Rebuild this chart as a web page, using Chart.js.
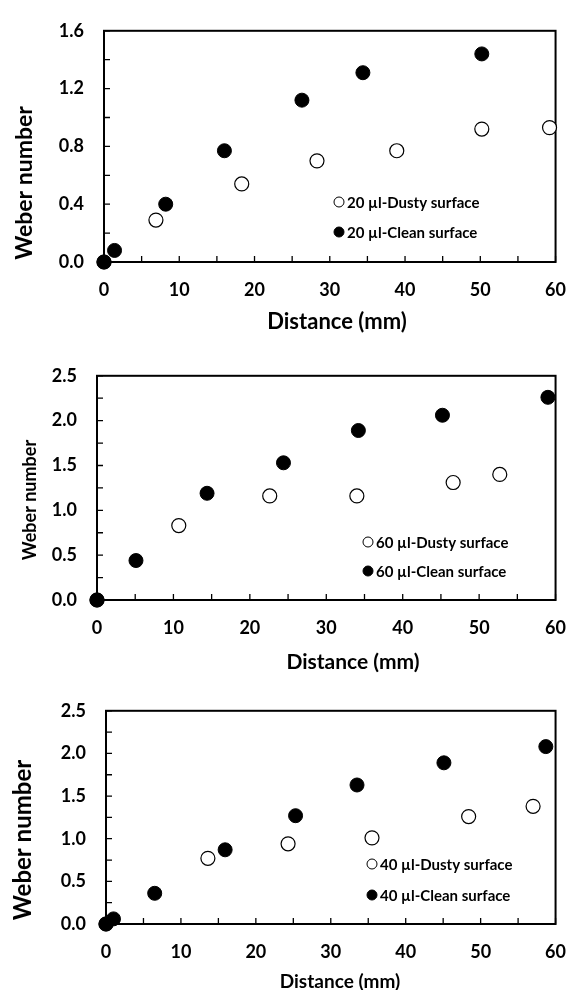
<!DOCTYPE html>
<html>
<head>
<meta charset="utf-8">
<script src="https://cdn.jsdelivr.net/npm/chart.js@4.4.1/dist/chart.umd.min.js"></script>
<style>
  html, body { margin: 0; padding: 0; background: #fff; }
  .panel { position: absolute; left: 0; width: 583px; }
</style>
</head>
<body>
<div class="panel" style="top:0;height:345px"><canvas id="c20"></canvas></div>
<div class="panel" style="top:345px;height:335px"><canvas id="c60"></canvas></div>
<div class="panel" style="top:680px;height:310px"><canvas id="c40"></canvas></div>
<script>
// axis ticks
const xTicks = [0, 10, 20, 30, 40, 50, 60];
const yTicks20 = [0, 0.4, 0.8, 1.2, 1.6];
const yTicks60 = [0, 0.5, 1.0, 1.5, 2.0, 2.5];
const yTicks40 = [0, 0.5, 1.0, 1.5, 2.0, 2.5];

// 20 µl
const labels20 = ['20 µl-Dusty surface', '20 µl-Clean surface'];
const dusty20X = [0, 6.9, 18.3, 28.3, 38.9, 50.2, 59.2];
const dusty20Y = [0, 0.29, 0.54, 0.70, 0.77, 0.92, 0.93];
const clean20X = [0, 1.4, 8.2, 16.0, 26.3, 34.4, 50.2];
const clean20Y = [0, 0.08, 0.40, 0.77, 1.12, 1.31, 1.44];

// 60 µl
const labels60 = ['60 µl-Dusty surface', '60 µl-Clean surface'];
const dusty60X = [0, 10.7, 22.6, 34.0, 46.6, 52.7];
const dusty60Y = [0, 0.83, 1.16, 1.16, 1.31, 1.40];
const clean60X = [0, 5.1, 14.4, 24.4, 34.2, 45.2, 59.0];
const clean60Y = [0, 0.44, 1.19, 1.53, 1.89, 2.06, 2.26];

// 40 µl
const labels40 = ['40 µl-Dusty surface', '40 µl-Clean surface'];
const dusty40X = [0, 13.6, 24.3, 35.5, 48.4, 57.0];
const dusty40Y = [0, 0.77, 0.94, 1.01, 1.26, 1.38];
const clean40X = [0, 1.0, 6.5, 15.9, 25.3, 33.5, 45.1, 58.7];
const clean40Y = [0, 0.06, 0.36, 0.87, 1.27, 1.63, 1.89, 2.08];

const FONT = 'Lato, "Open Sans", sans-serif';

function pts(xs, ys) {
  return xs.map((x, i) => ({ x: x, y: ys[i] }));
}

// midpoints between major ticks -> minor tick marks
function minors(t) {
  const out = [];
  for (let i = 0; i < t.length - 1; i++) out.push((t[i] + t[i + 1]) / 2);
  return out;
}

// box around plot + inward tick marks
const frame = {
  id: 'frame',
  beforeDatasetsDraw(chart, args, o) {
    const { ctx, chartArea: a, scales: { x, y } } = chart;
    ctx.save();
    ctx.strokeStyle = '#000';
    ctx.lineWidth = 1.3;
    ctx.beginPath();
    xTicks.concat(minors(xTicks)).forEach(v => {
      const px = x.getPixelForValue(v);
      ctx.moveTo(px, a.bottom);
      ctx.lineTo(px, a.bottom - 6);
    });
    o.yTicks.concat(minors(o.yTicks)).forEach(v => {
      const py = y.getPixelForValue(v);
      ctx.moveTo(a.left, py);
      ctx.lineTo(a.left + 6, py);
    });
    ctx.stroke();
    ctx.lineWidth = 2;
    ctx.strokeRect(a.left, a.top, a.width, a.height);
    ctx.restore();
  }
};

// axis titles and inset legend
const annot = {
  id: 'annot',
  afterDraw(chart, args, o) {
    const ctx = chart.ctx;
    ctx.save();
    ctx.fillStyle = '#000';
    ctx.textAlign = 'center';
    ctx.textBaseline = 'middle';
    ctx.font = 'bold ' + o.xTitleSize + 'px ' + FONT;
    ctx.fillText('Distance (mm)', o.xTitleAt[0], o.xTitleAt[1]);
    ctx.translate(o.yTitleAt[0], o.yTitleAt[1]);
    ctx.rotate(-Math.PI / 2);
    ctx.font = 'bold ' + o.yTitleSize + 'px ' + FONT;
    ctx.fillText('Weber number', 0, 0);
    ctx.restore();

    ctx.save();
    ctx.font = 'bold ' + o.legendSize + 'px ' + FONT;
    ctx.textAlign = 'left';
    ctx.textBaseline = 'middle';
    chart.data.datasets.forEach((ds, i) => {
      const lx = o.legendAt[0];
      const ly = o.legendAt[1] + i * o.legendGap;
      ctx.beginPath();
      ctx.arc(lx, ly, 5, 0, Math.PI * 2);
      ctx.fillStyle = ds.backgroundColor;
      ctx.fill();
      ctx.lineWidth = 1;
      ctx.strokeStyle = '#000';
      ctx.stroke();
      ctx.fillStyle = '#000';
      ctx.fillText(ds.label, lx + 8, ly + 1);
    });
    ctx.restore();
  }
};

function makeChart(id, labels, dusty, clean, yTicks, yMax, lay) {
  const tickFont = { family: FONT, size: 18, weight: 'bold' };
  return new Chart(document.getElementById(id), {
    type: 'scatter',
    data: {
      datasets: [{
        label: labels[0],
        data: dusty,
        backgroundColor: '#fff',
        borderColor: '#000',
        borderWidth: 1.2,
        pointRadius: 7,
        order: 1,
        clip: false
      }, {
        label: labels[1],
        data: clean,
        backgroundColor: '#000',
        borderColor: '#000',
        borderWidth: 1,
        pointRadius: 7,
        order: 0,
        clip: false
      }]
    },
    options: {
      responsive: true,
      maintainAspectRatio: false,
      animation: false,
      layout: { padding: { top: lay.top, right: lay.right, left: 0, bottom: 0 } },
      plugins: {
        legend: { display: false },
        tooltip: { enabled: false },
        frame: { yTicks: yTicks },
        annot: lay.annot
      },
      scales: {
        x: {
          type: 'linear',
          min: 0,
          max: 60,
          afterBuildTicks: s => { s.ticks = xTicks.map(v => ({ value: v })); },
          afterFit: s => { s.height = lay.xH; },
          grid: { display: false, drawTicks: false },
          border: { display: false },
          ticks: { padding: 17, color: '#000', font: tickFont, autoSkip: false, maxRotation: 0 }
        },
        y: {
          type: 'linear',
          min: 0,
          max: yMax,
          afterBuildTicks: s => { s.ticks = yTicks.map(v => ({ value: v })); },
          afterFit: s => { s.width = lay.yW; },
          grid: { display: false, drawTicks: false },
          border: { display: false },
          ticks: { padding: 20, color: '#000', font: tickFont, callback: v => v.toFixed(1) }
        }
      }
    },
    plugins: [frame, annot]
  });
}

makeChart('c20', labels20, pts(dusty20X, dusty20Y), pts(clean20X, clean20Y), yTicks20, 1.6, {
  top: 20, right: 12, xH: 83, yW: 104,
  annot: { xTitleAt: [337, 322], xTitleSize: 22, yTitleAt: [25, 183], yTitleSize: 23,
           legendAt: [339, 202], legendGap: 30, legendSize: 15 }
});

makeChart('c60', labels60, pts(dusty60X, dusty60Y), pts(clean60X, clean60Y), yTicks60, 2.5, {
  top: 27, right: 11, xH: 80, yW: 97,
  annot: { xTitleAt: [353, 317], xTitleSize: 21, yTitleAt: [30, 155], yTitleSize: 18,
           legendAt: [368, 197], legendGap: 29, legendSize: 15 }
});

makeChart('c40', labels40, pts(dusty40X, dusty40Y), pts(clean40X, clean40Y), yTicks40, 2.5, {
  top: 20, right: 12, xH: 66, yW: 106,
  annot: { xTitleAt: [340, 302], xTitleSize: 19, yTitleAt: [23, 160], yTitleSize: 24,
           legendAt: [372, 184], legendGap: 31, legendSize: 15 }
});
</script>
</body>
</html>
